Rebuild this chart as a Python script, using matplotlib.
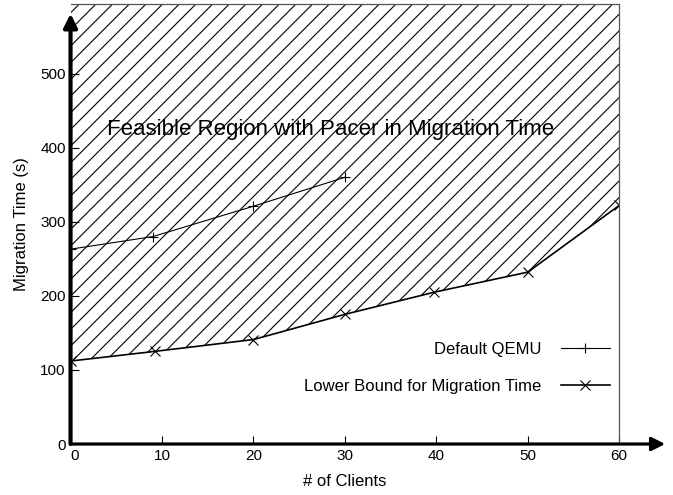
import numpy as np
import matplotlib
matplotlib.use('Agg')
import matplotlib.pyplot as plt

plt.rcParams['font.family'] = ['Liberation Sans', 'DejaVu Sans']
plt.rcParams['hatch.linewidth'] = 0.8

# data
clients_lb = [0, 9.2, 20, 30, 39.8, 50, 60]
lower_bound = [112, 125, 141, 175, 205, 232, 322]
clients_qemu = [0, 9, 20, 30]
default_qemu = [263, 280, 321, 360]
xticks = [0, 10, 20, 30, 40, 50, 60]
yticks = [0, 100, 200, 300, 400, 500]
ytop = 594

fig = plt.figure(figsize=(6.73, 4.95), dpi=100)
ax = fig.add_axes([0.1048, 0.103, 0.8152, 0.889])

# hatched feasible region above the lower bound
ax.fill_between(clients_lb, lower_bound, ytop, facecolor='none',
                edgecolor='k', hatch='//', linewidth=0)

ax.plot(clients_qemu, default_qemu, color='k', lw=0.8, marker='+',
        markersize=7, markeredgewidth=0.8, label='Default QEMU')
ax.plot(clients_lb, lower_bound, color='k', lw=1.2, marker='x',
        markersize=6.5, markeredgewidth=0.8, label='Lower Bound for Migration Time')

ax.set_xlim(0, 60)
ax.set_ylim(0, ytop)
ax.set_xticks(xticks)
ax.set_yticks(yticks)
ax.tick_params(direction='in', length=6, width=0.8, labelsize=11)
ax.get_xticklabels()[0].set_horizontalalignment('left')

ax.spines['left'].set_visible(False)
ax.spines['bottom'].set_visible(False)
ax.spines['top'].set_color('#555555')
ax.spines['right'].set_color('#555555')
ax.spines['top'].set_linewidth(0.9)
ax.spines['right'].set_linewidth(0.9)

# arrowed axes
ax.annotate('', xy=(1.084, 0), xytext=(0, 0), xycoords='axes fraction',
            arrowprops=dict(arrowstyle='-|>', lw=2.3, color='k',
                            mutation_scale=20, shrinkA=0, shrinkB=0),
            annotation_clip=False)
ax.annotate('', xy=(0, 0.978), xytext=(0, 0), xycoords='axes fraction',
            arrowprops=dict(arrowstyle='-|>', lw=3, color='k',
                            mutation_scale=20, shrinkA=0, shrinkB=0),
            annotation_clip=False)

ax.text(4, 424, 'Feasible Region with Pacer in Migration Time', fontsize=16,
        va='center', ha='left')

ax.set_xlabel('# of Clients', fontsize=12, labelpad=8)
ax.set_ylabel('Migration Time (s)', fontsize=12, labelpad=8)

ax.legend(loc='lower right', bbox_to_anchor=(1.01, 0.08), frameon=False,
          markerfirst=False, fontsize=12, numpoints=1, handlelength=2.9,
          labelspacing=1.3, handletextpad=1.2)

fig.savefig('out.png', dpi=100)
